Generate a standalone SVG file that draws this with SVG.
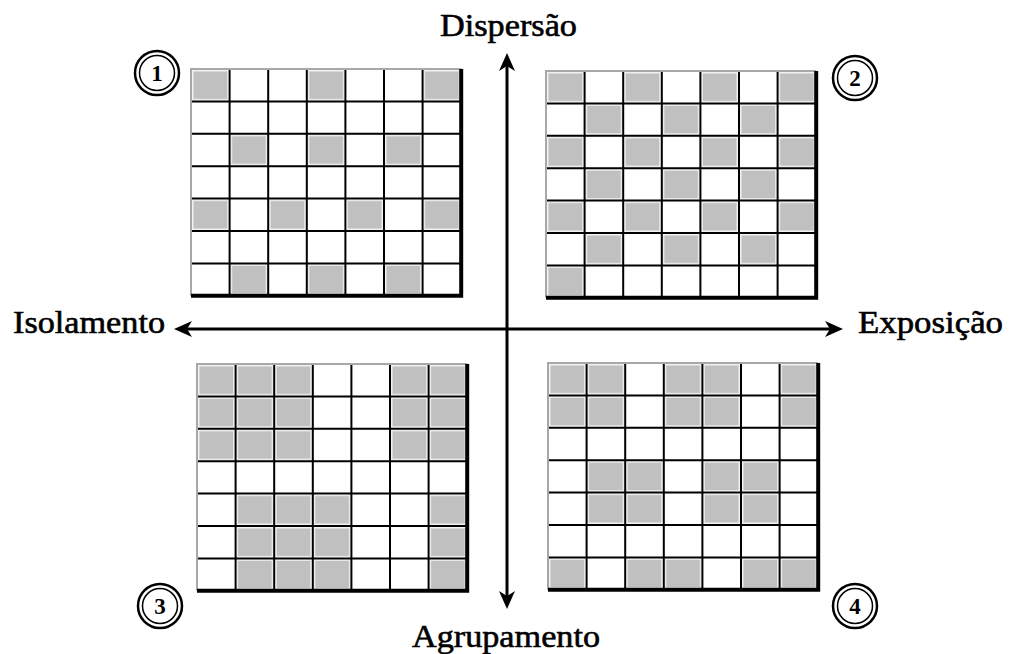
<svg xmlns="http://www.w3.org/2000/svg" xmlns:xlink="http://www.w3.org/1999/xlink" width="1010" height="654" viewBox="0 0 1010 654">
<style>
.lbl{font-family:"Liberation Serif","Times New Roman",serif;font-size:32px;fill:#000;stroke:#000;stroke-width:0.6}
.num{font-family:"Liberation Serif","Times New Roman",serif;font-size:23px;font-weight:bold;fill:#000;text-anchor:middle}
.g{fill:#c0c0c0;stroke:#e8e8e8;stroke-width:1.2}
.ln{stroke:#000;stroke-width:2;fill:none}
.lt{stroke:#a8a8a8;stroke-width:2;fill:none}
.bk{stroke:#000;stroke-width:4;fill:none}
.ax{stroke:#000;stroke-width:3;fill:none}
.ro{fill:#fff;stroke:#000;stroke-width:2.5}
.ri{fill:#fff;stroke:#000;stroke-width:1.5}
</style>
<defs>
<marker id="ah" markerUnits="userSpaceOnUse" viewBox="0 0 18 16" markerWidth="18" markerHeight="16" refX="12" refY="8" orient="auto-start-reverse">
<path d="M0,0 L18,8 L0,16 L5,8 Z" fill="#000"/>
</marker>
<g id="gridlines">
<path class="ln" d="M38.6,0V226.8M77.2,0V226.8M115.8,0V226.8M154.4,0V226.8M193,0V226.8M231.6,0V226.8M0,32.4H270.2M0,64.8H270.2M0,97.2H270.2M0,129.6H270.2M0,162H270.2M0,194.4H270.2"/>
<path class="lt" d="M0,226.8V0H270.2"/>
<path class="bk" d="M270.2,0V226.8H0"/>
</g>
<rect id="gc" class="g" x="2" y="2" width="34.6" height="28.4"/>
</defs>

<g id="connectors">
<line class="ax" x1="507" y1="59" x2="507" y2="603" marker-start="url(#ah)" marker-end="url(#ah)"/>
<line class="ax" x1="180" y1="329" x2="837" y2="329" marker-start="url(#ah)" marker-end="url(#ah)"/>
</g>

<g id="grid1" transform="translate(191,69)">
<rect width="270.2" height="226.8" fill="#fff"/>
<use xlink:href="#gc" x="0" y="0"/><use xlink:href="#gc" x="115.8" y="0"/><use xlink:href="#gc" x="231.6" y="0"/>
<use xlink:href="#gc" x="38.6" y="64.8"/><use xlink:href="#gc" x="115.8" y="64.8"/><use xlink:href="#gc" x="193" y="64.8"/>
<use xlink:href="#gc" x="0" y="129.6"/><use xlink:href="#gc" x="77.2" y="129.6"/><use xlink:href="#gc" x="154.4" y="129.6"/><use xlink:href="#gc" x="231.6" y="129.6"/>
<use xlink:href="#gc" x="38.6" y="194.4"/><use xlink:href="#gc" x="115.8" y="194.4"/><use xlink:href="#gc" x="193" y="194.4"/>
<use xlink:href="#gridlines"/>
</g>

<g id="grid2" transform="translate(546,71)">
<rect width="270.2" height="226.8" fill="#fff"/>
<use xlink:href="#gc" x="0" y="0"/><use xlink:href="#gc" x="77.2" y="0"/><use xlink:href="#gc" x="154.4" y="0"/><use xlink:href="#gc" x="231.6" y="0"/>
<use xlink:href="#gc" x="38.6" y="32.4"/><use xlink:href="#gc" x="115.8" y="32.4"/><use xlink:href="#gc" x="193" y="32.4"/>
<use xlink:href="#gc" x="0" y="64.8"/><use xlink:href="#gc" x="77.2" y="64.8"/><use xlink:href="#gc" x="154.4" y="64.8"/><use xlink:href="#gc" x="231.6" y="64.8"/>
<use xlink:href="#gc" x="38.6" y="97.2"/><use xlink:href="#gc" x="115.8" y="97.2"/><use xlink:href="#gc" x="193" y="97.2"/>
<use xlink:href="#gc" x="0" y="129.6"/><use xlink:href="#gc" x="77.2" y="129.6"/><use xlink:href="#gc" x="154.4" y="129.6"/><use xlink:href="#gc" x="231.6" y="129.6"/>
<use xlink:href="#gc" x="38.6" y="162"/><use xlink:href="#gc" x="115.8" y="162"/><use xlink:href="#gc" x="193" y="162"/>
<use xlink:href="#gc" x="0" y="194.4"/>
<use xlink:href="#gridlines"/>
</g>

<g id="grid3" transform="translate(197,364)">
<rect width="270.2" height="226.8" fill="#fff"/>
<use xlink:href="#gc" x="0" y="0"/><use xlink:href="#gc" x="38.6" y="0"/><use xlink:href="#gc" x="77.2" y="0"/><use xlink:href="#gc" x="193" y="0"/><use xlink:href="#gc" x="231.6" y="0"/>
<use xlink:href="#gc" x="0" y="32.4"/><use xlink:href="#gc" x="38.6" y="32.4"/><use xlink:href="#gc" x="77.2" y="32.4"/><use xlink:href="#gc" x="193" y="32.4"/><use xlink:href="#gc" x="231.6" y="32.4"/>
<use xlink:href="#gc" x="0" y="64.8"/><use xlink:href="#gc" x="38.6" y="64.8"/><use xlink:href="#gc" x="77.2" y="64.8"/><use xlink:href="#gc" x="193" y="64.8"/><use xlink:href="#gc" x="231.6" y="64.8"/>
<use xlink:href="#gc" x="38.6" y="129.6"/><use xlink:href="#gc" x="77.2" y="129.6"/><use xlink:href="#gc" x="115.8" y="129.6"/><use xlink:href="#gc" x="231.6" y="129.6"/>
<use xlink:href="#gc" x="38.6" y="162"/><use xlink:href="#gc" x="77.2" y="162"/><use xlink:href="#gc" x="115.8" y="162"/><use xlink:href="#gc" x="231.6" y="162"/>
<use xlink:href="#gc" x="38.6" y="194.4"/><use xlink:href="#gc" x="77.2" y="194.4"/><use xlink:href="#gc" x="115.8" y="194.4"/><use xlink:href="#gc" x="231.6" y="194.4"/>
<use xlink:href="#gridlines"/>
</g>

<g id="grid4" transform="translate(548,363)">
<rect width="270.2" height="226.8" fill="#fff"/>
<use xlink:href="#gc" x="0" y="0"/><use xlink:href="#gc" x="38.6" y="0"/><use xlink:href="#gc" x="115.8" y="0"/><use xlink:href="#gc" x="154.4" y="0"/><use xlink:href="#gc" x="231.6" y="0"/>
<use xlink:href="#gc" x="0" y="32.4"/><use xlink:href="#gc" x="38.6" y="32.4"/><use xlink:href="#gc" x="115.8" y="32.4"/><use xlink:href="#gc" x="154.4" y="32.4"/><use xlink:href="#gc" x="231.6" y="32.4"/>
<use xlink:href="#gc" x="38.6" y="97.2"/><use xlink:href="#gc" x="77.2" y="97.2"/><use xlink:href="#gc" x="154.4" y="97.2"/><use xlink:href="#gc" x="193" y="97.2"/>
<use xlink:href="#gc" x="38.6" y="129.6"/><use xlink:href="#gc" x="77.2" y="129.6"/><use xlink:href="#gc" x="154.4" y="129.6"/><use xlink:href="#gc" x="193" y="129.6"/>
<use xlink:href="#gc" x="0" y="194.4"/><use xlink:href="#gc" x="77.2" y="194.4"/><use xlink:href="#gc" x="115.8" y="194.4"/><use xlink:href="#gc" x="193" y="194.4"/><use xlink:href="#gc" x="231.6" y="194.4"/>
<use xlink:href="#gridlines"/>
</g>

<g id="badge1"><circle class="ro" cx="157" cy="73" r="22"/><circle class="ri" cx="157" cy="73" r="17.5"/><text class="num" x="157" y="81">1</text></g>
<g id="badge2"><circle class="ro" cx="855" cy="78" r="22"/><circle class="ri" cx="855" cy="78" r="17.5"/><text class="num" x="855" y="86">2</text></g>
<g id="badge3"><circle class="ro" cx="160" cy="606" r="22"/><circle class="ri" cx="160" cy="606" r="17.5"/><text class="num" x="160" y="614">3</text></g>
<g id="badge4"><circle class="ro" cx="855" cy="606" r="22"/><circle class="ri" cx="855" cy="606" r="17.5"/><text class="num" x="855" y="614">4</text></g>

<g id="labels">
<text class="lbl" x="440" y="36" textLength="137" lengthAdjust="spacingAndGlyphs">Dispersão</text>
<text class="lbl" x="13" y="333" textLength="152" lengthAdjust="spacingAndGlyphs">Isolamento</text>
<text class="lbl" x="858" y="333" textLength="145" lengthAdjust="spacingAndGlyphs">Exposição</text>
<text class="lbl" x="412" y="647" textLength="188" lengthAdjust="spacingAndGlyphs">Agrupamento</text>
</g>
</svg>
